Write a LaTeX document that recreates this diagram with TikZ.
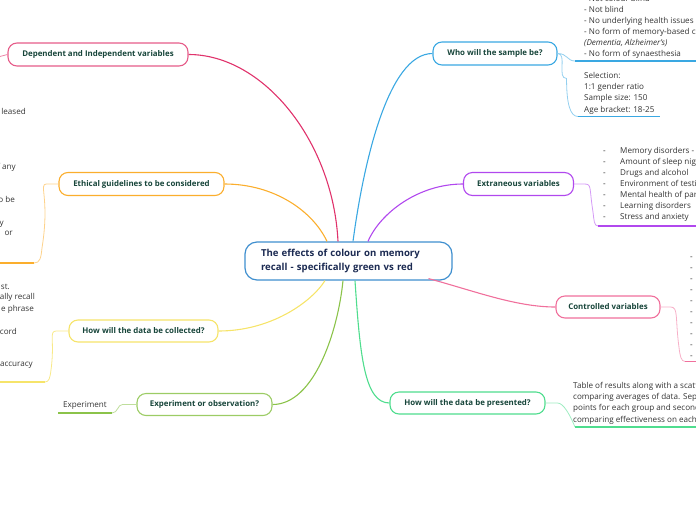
\documentclass[tikz,border=0pt]{standalone}
\usepackage{fontspec}
\setmainfont{Open Sans}
\usetikzlibrary{calc}
\definecolor{crim}{HTML}{E0336C}
\definecolor{skyb}{HTML}{3AA8E2}
\definecolor{orng}{HTML}{FBAE2D}
\definecolor{purp}{HTML}{B148EE}
\definecolor{yelw}{HTML}{F6E46A}
\definecolor{olive}{HTML}{8BC34A}
\definecolor{mint}{HTML}{4FDD8E}
\definecolor{pinkc}{HTML}{F0709C}
\definecolor{ctrb}{HTML}{3F8FCF}
\definecolor{nodetext}{HTML}{17453A}
\definecolor{ctrtext}{HTML}{1B2A52}
\definecolor{bodytext}{HTML}{333333}
\begin{document}
\begin{tikzpicture}[x=1pt,y=-1pt,
  topic/.style={draw, rounded corners=9pt, fill=white, line width=1.1pt,
    font=\fontsize{7.9}{9}\selectfont\bfseries, text=nodetext, inner sep=0pt, minimum height=23pt},
  txt/.style={font=\fontsize{8.1}{9}\selectfont, text=bodytext, inner sep=0pt},
  branch/.style={line width=1.1pt},
  twig/.style={line width=0.8pt},
  uline/.style={line width=1.7pt}]
\useasboundingbox (0,0) rectangle (696,520);
\clip (0,0) rectangle (696,520);

% central node
\node[draw=ctrb, rounded corners=12pt, fill=white, line width=1.2pt, minimum width=207pt, minimum height=38pt,
  text width=175pt, inner xsep=16pt, inner ysep=0pt, align=left,
  font=\fontsize{9.6}{13.5}\selectfont\bfseries, text=ctrtext] (ctr) at (348.5,261)
  {The effects of colour on memory\\recall - specifically green vs red};

% topic nodes
\node[topic, draw=crim!80, minimum width=180pt] (dep) at (98,54.5) {Dependent and Independent variables};
\node[topic, draw=skyb, minimum width=124pt] (who) at (495,53.5) {Who will the sample be?};
\node[topic, draw=orng, minimum width=165pt] (eth) at (141.5,184) {Ethical guidelines to be considered};
\node[topic, draw=purp, minimum width=110pt] (ext) at (518.5,184) {Extraneous variables};
\node[topic, draw=yelw, minimum width=149pt, minimum height=22pt] (col) at (143.5,331) {How will the data be collected?};
\node[topic, draw=pinkc, minimum width=104pt, minimum height=22pt] (ctrl) at (608,307) {Controlled variables};
\node[topic, draw=olive!85, minimum width=135pt, minimum height=22pt] (exp) at (204.5,404.5) {Experiment or observation?};
\node[topic, draw=mint, minimum width=155pt, minimum height=22pt] (pres) at (467.5,403) {How will the data be presented?};

% main branches
\draw[branch, crim] (dep.east) .. controls +(75,0) and +(-5,-100) .. ($(ctr.north)+(-10.5,0)$);
\draw[branch, skyb] ($(ctr.north)+(4.5,0)$) .. controls +(10,-75) and +(-45,0) .. (who.west);
\draw[branch, orng] (eth.east) .. controls +(50,0) and +(-14,-30) .. ($(ctr.north)+(-21.5,0)$);
\draw[branch, purp] ($(ctr.north)+(19.5,0)$) .. controls +(12,-28) and +(-45,0) .. (ext.west);
\draw[branch, yelw] (col.east) .. controls +(52,0) and +(-14,22) .. ($(ctr.south)+(-23.5,0)$);
\draw[branch, olive] (exp.east) .. controls +(42,0) and +(-5,50) .. ($(ctr.south)+(-5.5,0)$);
\draw[branch, mint] ($(ctr.south)+(6.5,0)$) .. controls +(5,75) and +(-25,0) .. (pres.west);
\draw[branch, pinkc] ($(ctr.south)+(80,-2)$) .. controls +(45,12) and +(-40,0) .. (ctrl.west);

% child connectors and underlines
\coordinate (depc) at (-2,57);
\draw[twig, crim!60] (dep.west) -- (depc);

\coordinate (crA) at (575,61);
\coordinate (crB) at (700,61);
\coordinate (seA) at (578,116.5);
\coordinate (seB) at (660,116.5);
\draw[twig, skyb!55] (who.east) .. controls +(10,0) and +(-8,0) .. (crA);
\draw[twig, skyb!55] (who.east) .. controls +(10,0) and +(-10,0) .. ($(who.east)+(9,25)$) .. controls +(0,25) and +(-8,0) .. (seA);
\draw[uline, skyb] (crA) -- (crB);
\draw[uline, skyb] (seA) -- (seB);

\coordinate (ethA) at (34,263);
\coordinate (ethB) at (-2,263);
\draw[twig, orng!55] (eth.west) -- ++(-12,0) .. controls +(-8,0) and +(8,-50) .. ($(ethA)+(8,-15)$) .. controls +(-1,10) and +(6,0) .. (ethA);
\draw[uline, orng] (ethA) -- (ethB);

\coordinate (colA) at (45,382);
\coordinate (colB) at (-2,382);
\draw[twig, yelw!80] (col.west) -- ++(-12,0) .. controls +(-8,0) and +(4,-30) .. ($(colA)+(6,-12)$) .. controls +(-1,8) and +(4,0) .. (colA);
\draw[uline, yelw] (colA) -- (colB);

\coordinate (expA) at (112,413);
\coordinate (expB) at (58,413);
\draw[twig, olive!55] (exp.west) -- ++(-14,0) .. controls +(-5,0) and +(6,0) .. (expA);
\draw[uline, olive] (expA) -- (expB);

\coordinate (extA) at (598,226);
\coordinate (extB) at (700,226);
\draw[twig, purp!55] (ext.east) -- ++(10,0) .. controls +(8,0) and +(-4,-25) .. ($(extA)+(-5,-14)$) .. controls +(1,8) and +(-4,0) .. (extA);
\draw[uline, purp] (extA) -- (extB);

\coordinate (ctlA) at (685,361.5);
\coordinate (ctlB) at (700,361.5);
\draw[twig, pinkc!55] (ctrl.east) -- ++(10,0) .. controls +(8,0) and +(-4,-30) .. ($(ctlA)+(-6,-14)$) .. controls +(1,8) and +(-4,0) .. (ctlA);
\draw[uline, pinkc] (ctlA) -- (ctlB);

\coordinate (prA) at (575,427);
\coordinate (prB) at (700,427);
\draw[twig, mint!55] (pres.east) -- ++(12,0) .. controls +(6,0) and +(-5,-12) .. (prA);
\draw[uline, mint] (prA) -- (prB);

% sample texts
\node[txt, anchor=base west] (cr1) at (584,1) {- Not colour blind};
\node[txt, anchor=base west] (cr2) at (584,12) {- Not blind};
\node[txt, anchor=base west] (cr3) at (584,23) {- No underlying health issues};
\node[txt, anchor=base west] (cr4) at (584,34) {- No form of memory-based cognitive disorder};
\node[txt, anchor=base west] (cr5) at (584,45) {\itshape (Dementia, Alzheimer’s)};
\node[txt, anchor=base west] (cr6) at (584,56) {- No form of synaesthesia};
\node[txt, anchor=base west] (se1) at (584,78) {Selection:};
\node[txt, anchor=base west] (se2) at (584,89.3) {1:1 gender ratio};
\node[txt, anchor=base west] (se3) at (584,100.6) {Sample size: 150};
\node[txt, anchor=base west] (se4) at (584,112) {Age bracket: 18-25};

% extraneous list
\node[txt, anchor=base west] (ex1) at (603,153) {\makebox[17pt][l]{-}Memory disorders - dementia};
\node[txt, anchor=base west] (ex2) at (603,164) {\makebox[17pt][l]{-}Amount of sleep night before};
\node[txt, anchor=base west] (ex3) at (603,175) {\makebox[17pt][l]{-}Drugs and alcohol};
\node[txt, anchor=base west] (ex4) at (603,186) {\makebox[17pt][l]{-}Environment of testing};
\node[txt, anchor=base west] (ex5) at (603,197) {\makebox[17pt][l]{-}Mental health of participants};
\node[txt, anchor=base west] (ex6) at (603,208) {\makebox[17pt][l]{-}Learning disorders};
\node[txt, anchor=base west] (ex7) at (603,219) {\makebox[17pt][l]{-}Stress and anxiety};

% controlled list (cut off)
\foreach \i in {0,...,9} {
  \node[txt, anchor=base west] (cv\i) at (690,259+11.1*\i) {-};
}

% presented text
\node[txt, anchor=base west] (pr1) at (573,388) {Table of results along with a scatter graph};
\node[txt, anchor=base west] (pr2) at (573,399.3) {comparing averages of data. Separate data};
\node[txt, anchor=base west] (pr3) at (573,410.6) {points for each group and second graph};
\node[txt, anchor=base west] (pr4) at (573,422) {comparing effectiveness on each colour};

% left fragments
\node[txt, anchor=base east] (et1) at (26,114) {leased};
\node[txt, anchor=base east] (et2) at (16,169) {f any};
\node[txt, anchor=base east] (et3) at (15,202) {o be};
\node[txt, anchor=base east] (et4) at (4,225) {y};
\node[txt, anchor=base east] (et5) at (13,235) {or};
\node[txt, anchor=base east] (dc1) at (10,289) {st.};
\node[txt, anchor=base east] (dc2) at (35,299) {ally recall};
\node[txt, anchor=base east] (dc3) at (34,311) {e phrase};
\node[txt, anchor=base east] (dc4) at (17,334) {cord};
\node[txt, anchor=base east] (dc5) at (33,366) {accuracy};

\node[txt, anchor=base west] (expt) at (63,407) {Experiment};
\end{tikzpicture}
\end{document}
